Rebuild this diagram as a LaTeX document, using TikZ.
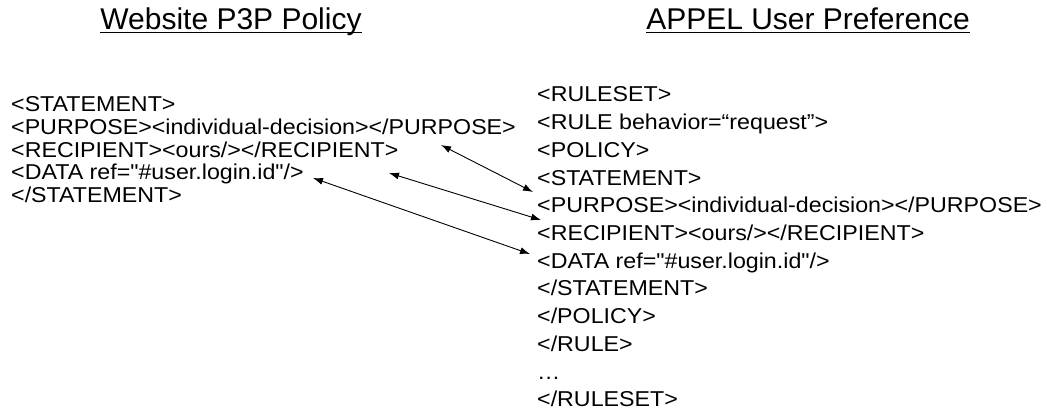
\documentclass[tikz,border=0pt]{standalone}
\usepackage{fontspec}
\setmainfont{Liberation Sans}[Ligatures=TeXOff]
\usetikzlibrary{arrows.meta}
% code lines are set slightly wide
\newcommand\widetext[1]{\scalebox{1.08}[1]{#1}}
\begin{document}
\begin{tikzpicture}[x=1pt,y=-1pt,
  code/.style={anchor=base west,inner sep=0pt,font=\fontsize{21.5}{26}\selectfont},
  heading/.style={anchor=base,inner sep=0pt,font=\fontsize{30}{36}\selectfont},
  link/.style={line width=0.9pt,{Latex[length=10pt,width=7pt]}-{Latex[length=10pt,width=7pt]}}]
\useasboundingbox (0,0) rectangle (1047,412);

% headings with underline
\node[heading] (h1) at (231,29.5) {Website P3P Policy};
\node[heading] (h2) at (808,29.5) {APPEL User Preference};
\foreach \h in {h1,h2}
  \draw[line width=1.8pt] ([yshift=-3pt]\h.base west) -- ([yshift=-3pt]\h.base east);

% P3P policy statement
\node[code] (l1) at (11,111.5) {\widetext{<STATEMENT>}};
\node[code] (l2) at (11,134.5) {\widetext{<PURPOSE><individual-decision></PURPOSE>}};
\node[code] (l3) at (11,157)   {\widetext{<RECIPIENT><ours/></RECIPIENT>}};
\node[code] (l4) at (11,179.5) {\widetext{<DATA ref="\#user.login.id"/>}};
\node[code] (l5) at (11,202)   {\widetext{</STATEMENT>}};

% APPEL ruleset
\node[code] (r1)  at (537,102)   {\widetext{<RULESET>}};
\node[code] (r2)  at (537,129.7) {\widetext{<RULE behavior=“request”>}};
\node[code] (r3)  at (537,157.4) {\widetext{<POLICY>}};
\node[code] (r4)  at (537,185.1) {\widetext{<STATEMENT>}};
\node[code] (r5)  at (537,212.8) {\widetext{<PURPOSE><individual-decision></PURPOSE>}};
\node[code] (r6)  at (537,240.5) {\widetext{<RECIPIENT><ours/></RECIPIENT>}};
\node[code] (r7)  at (537,268.2) {\widetext{<DATA ref="\#user.login.id"/>}};
\node[code] (r8)  at (537,295.9) {\widetext{</STATEMENT>}};
\node[code] (r9)  at (537,323.6) {\widetext{</POLICY>}};
\node[code] (r10) at (537,351.3) {\widetext{</RULE>}};
\node[code] (r11) at (537,379)   {\widetext{\dots}};
\node[code] (r12) at (537,406.7) {\widetext{</RULESET>}};

% matching elements
\coordinate (pa) at (441,145);
\coordinate (pb) at (533,192);
\coordinate (ra) at (389,173);
\coordinate (rb) at (541,220);
\coordinate (da) at (313,178);
\coordinate (db) at (530,254);
\draw[link] (pa) -- (pb);
\draw[link] (ra) -- (rb);
\draw[link] (da) -- (db);
\end{tikzpicture}
\end{document}
